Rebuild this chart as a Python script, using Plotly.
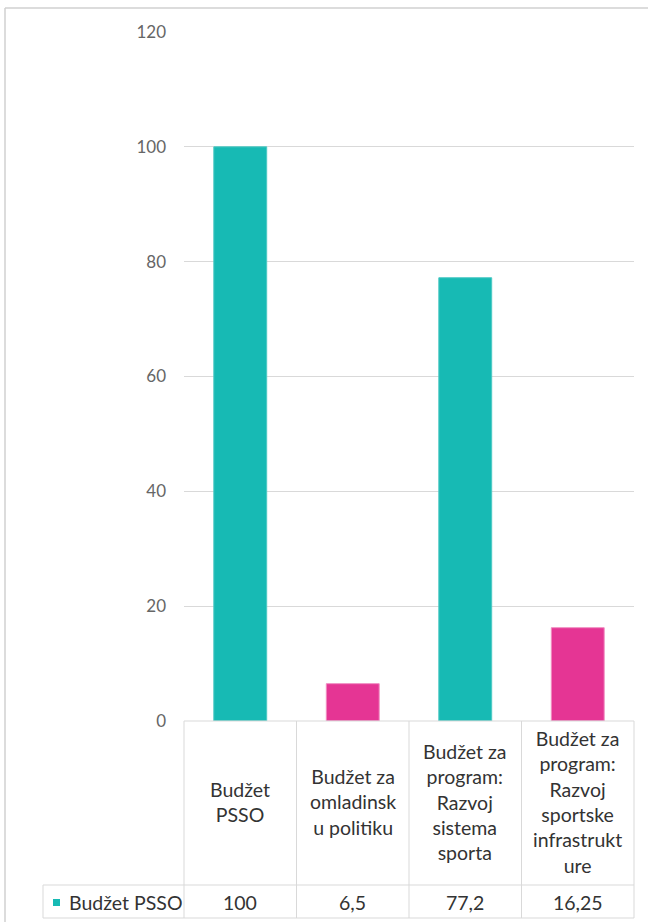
import plotly.graph_objects as go

# ---- data ----
categories = ["Budžet PSSO", "Budžet za omladinsku politiku",
              "Budžet za program: Razvoj sistema sporta",
              "Budžet za program: Razvoj sportske infrastrukture"]
category_labels = ["Budžet<br>PSSO", "Budžet za<br>omladinsk<br>u politiku",
                   "Budžet za<br>program:<br>Razvoj<br>sistema<br>sporta",
                   "Budžet za<br>program:<br>Razvoj<br>sportske<br>infrastrukt<br>ure"]
values = [100, 6.5, 77.2, 16.25]
value_labels = ["100", "6,5", "77,2", "16,25"]
series_name = "Budžet PSSO"
y_ticks = [0, 20, 40, 60, 80, 100, 120]

# ---- style ----
W, H = 648, 922
L, R, T, B = 184, 14, 32, 201
PW, PH = W - L - R, H - T - B
TEAL, PINK = "#17BAB4", "#E53594"
bar_colors = [TEAL, PINK, TEAL, PINK]
bar_lines = ["#4cc9c4", "#f08cc1", "#4cc9c4", "#f08cc1"]
GRID = "#d9d9d9"
FONT = "Lato"
TXT = "#333333"

def px(x):
    return (x - L) / PW

def py(y):
    return (H - B - y) / PH

fig = go.Figure()
fig.add_trace(go.Bar(
    x=categories, y=values, name=series_name,
    marker=dict(color=bar_colors, line=dict(color=bar_lines, width=1)),
    width=0.47, showlegend=False, hoverinfo="x+y",
))

shapes = []
line = dict(color=GRID, width=1)
# outer chart border (left and top visible)
shapes.append(dict(type="line", xref="paper", yref="paper", x0=px(5), x1=px(5), y0=py(8), y1=py(H + 5), line=dict(color="#d0d0d0", width=1.5)))
shapes.append(dict(type="line", xref="paper", yref="paper", x0=px(5), x1=px(W + 5), y0=py(8), y1=py(8), line=dict(color="#d0d0d0", width=1.5)))
# table grid
col_edges = [L + i * PW / 4 for i in range(5)]
for xe in col_edges:
    shapes.append(dict(type="line", xref="paper", yref="paper", x0=px(xe), x1=px(xe), y0=py(721), y1=py(918), line=line))
shapes.append(dict(type="line", xref="paper", yref="paper", x0=px(L), x1=px(W - R), y0=py(721), y1=py(721), line=line))
shapes.append(dict(type="line", xref="paper", yref="paper", x0=px(43), x1=px(W - R), y0=py(885), y1=py(885), line=line))
shapes.append(dict(type="line", xref="paper", yref="paper", x0=px(43), x1=px(W - R), y0=py(918), y1=py(918), line=line))
shapes.append(dict(type="line", xref="paper", yref="paper", x0=px(43), x1=px(43), y0=py(885), y1=py(918), line=line))
# legend key
shapes.append(dict(type="rect", xref="paper", yref="paper", x0=px(53), x1=px(60), y0=py(899), y1=py(906), fillcolor=TEAL, line=dict(width=0)))

annotations = []
for c, lab, v in zip(categories, category_labels, value_labels):
    annotations.append(dict(x=c, xref="x", y=py(802), yref="paper", text=lab, showarrow=False,
                            xanchor="center", yanchor="middle", align="center",
                            font=dict(family=FONT, size=19.5, color=TXT)))
    annotations.append(dict(x=c, xref="x", y=py(902), yref="paper", text=v, showarrow=False,
                            xanchor="center", yanchor="middle",
                            font=dict(family=FONT, size=19.5, color=TXT)))
annotations.append(dict(x=px(67), xref="paper", y=py(902), yref="paper", text=series_name, showarrow=False,
                        xanchor="left", yanchor="middle",
                        font=dict(family=FONT, size=19.5, color=TXT)))

fig.update_layout(
    width=W, height=H,
    margin=dict(l=L, r=R, t=T, b=B, pad=0),
    paper_bgcolor="white", plot_bgcolor="white",
    shapes=shapes, annotations=annotations,
    xaxis=dict(showticklabels=False, showgrid=False, zeroline=False, showline=False, ticks=""),
    yaxis=dict(range=[0, 120], tickvals=y_ticks, showgrid=True, gridcolor=GRID, gridwidth=1,
               zeroline=False, showline=False, ticks="", ticklabelstandoff=17,
               tickfont=dict(family=FONT, size=17, color="#666666")),
)

fig.write_html("out.html", config={"displayModeBar": False},
               post_script="document.body.style.margin='0';document.body.style.overflow='hidden';")
